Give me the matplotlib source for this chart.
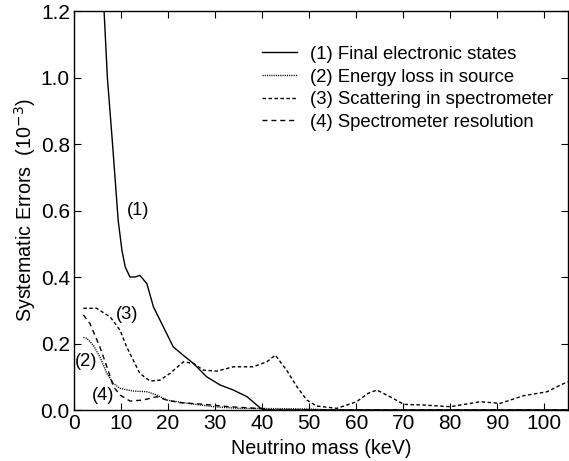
import matplotlib
matplotlib.use("Agg")
import matplotlib.pyplot as plt

plt.rcParams['font.family'] = ['Liberation Sans', 'DejaVu Sans']

# (1) final electronic states
m1 = [5.8, 6.4, 7.1, 8.2, 9.4, 10.2, 10.9, 11.9, 13.0, 14.0, 15.5, 16.9, 18.3,
      19.7, 21.1, 23.2, 25.4, 28.2, 31.1, 33.9, 36.8, 39.6, 41.0, 105.0]
e1 = [1.45, 1.2, 1.0, 0.8, 0.57, 0.48, 0.43, 0.40, 0.40, 0.405, 0.38, 0.31,
      0.27, 0.23, 0.19, 0.165, 0.14, 0.10, 0.075, 0.06, 0.04, 0.006, 0.0, 0.0]

# (2) energy loss in source
m2 = [2.0, 2.7, 4.1, 5.5, 7.0, 8.4, 9.8, 12.6, 15.5, 17.6, 19.7, 23.3, 29.6,
      35.0, 45.0, 50.0, 55.0, 105.0]
e2 = [0.218, 0.216, 0.195, 0.16, 0.11, 0.08, 0.065, 0.057, 0.055, 0.045, 0.03,
      0.022, 0.01, 0.005, 0.004, 0.003, 0.0, 0.0]

# (3) scattering in spectrometer
m3 = [2.0, 4.8, 7.7, 9.8, 11.2, 12.6, 14.0, 16.2, 18.3, 20.4, 23.3, 25.4, 27.5,
      30.4, 33.9, 38.1, 41.0, 42.8, 45.2, 47.4, 49.5, 51.6, 55.9, 60.1, 62.5,
      64.4, 67.2, 70.1, 74.3, 80.0, 86.4, 90.6, 95.6, 100.6, 103.4, 105.0]
e3 = [0.306, 0.306, 0.28, 0.24, 0.19, 0.15, 0.11, 0.087, 0.09, 0.11, 0.145,
      0.14, 0.12, 0.117, 0.13, 0.13, 0.145, 0.165, 0.12, 0.07, 0.03, 0.012,
      0.005, 0.025, 0.05, 0.06, 0.04, 0.017, 0.015, 0.01, 0.025, 0.02, 0.043,
      0.055, 0.075, 0.085]

# (4) spectrometer resolution
m4 = [2.0, 3.4, 5.5, 7.0, 8.4, 9.8, 11.9, 14.7, 17.6, 19.7, 22.5, 26.8, 33.0,
      40.0, 42.0, 105.0]
e4 = [0.286, 0.26, 0.19, 0.13, 0.07, 0.045, 0.027, 0.03, 0.04, 0.03, 0.022,
      0.018, 0.01, 0.004, 0.0, 0.0]

labels = ["(1) Final electronic states", "(2) Energy loss in source",
          "(3) Scattering in spectrometer", "(4) Spectrometer resolution"]

fig = plt.figure(figsize=(5.69, 4.61), dpi=100)
ax = fig.add_axes([0.130, 0.1106, 0.868, 0.8655])

ax.plot(m1, e1, color='black', lw=1.0, label=labels[0])
ax.plot(m2, e2, color='black', lw=1.0, linestyle=(0, (0.8, 0.8)), label=labels[1])
ax.plot(m3, e3, color='black', lw=1.0, linestyle=(0, (2.5, 1.8)), label=labels[2])
ax.plot(m4, e4, color='black', lw=1.0, linestyle=(0, (3.6, 2.8)), label=labels[3])

ax.text(13.6, 0.6, "(1)", fontsize=13.2, ha='center', va='center')
ax.text(11.3, 0.286, "(3)", fontsize=13.2, ha='center', va='center')
ax.text(2.5, 0.145, "(2)", fontsize=13.2, ha='center', va='center')
ax.text(6.2, 0.045, "(4)", fontsize=13.2, ha='center', va='center')

ax.set_xlim(0, 105)
ax.set_ylim(0, 1.2)
ax.set_xticks(range(0, 101, 10))
ax.set_yticks([0.0, 0.2, 0.4, 0.6, 0.8, 1.0, 1.2])
ax.set_yticklabels(["0.0", "0.2", "0.4", "0.6", "0.8", "1.0", "1.2"])
ax.tick_params(direction='in', top=True, right=True, length=5, width=0.8,
               labelsize=15, pad=3)
for s in ax.spines.values():
    s.set_linewidth(1.0)

ax.set_xlabel("Neutrino mass (keV)", fontsize=14.2, labelpad=4)
ax.set_ylabel("Systematic Errors  (10$^{-3}$)", fontsize=14.2, labelpad=1.5)

fig.legend(loc='upper left', bbox_to_anchor=(0.4605, 0.9003), frameon=False,
           fontsize=13.3, handlelength=1.9, handletextpad=0.7, labelspacing=0.3,
           borderpad=0, borderaxespad=0)

fig.savefig("out.png", dpi=100)
